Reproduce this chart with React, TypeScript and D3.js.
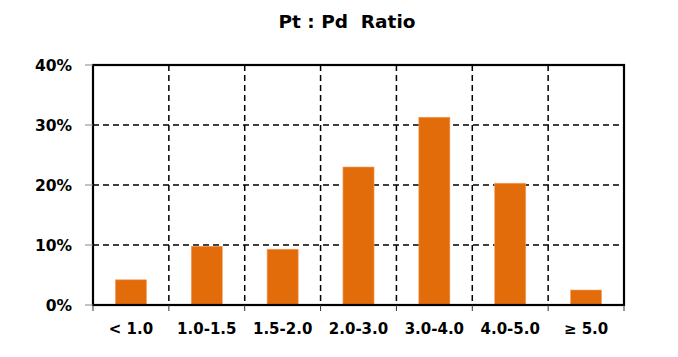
import React from "react";
import * as d3 from "d3";

const categories = ["< 1.0", "1.0-1.5", "1.5-2.0", "2.0-3.0", "3.0-4.0", "4.0-5.0", "≥ 5.0"];
const values = [4.2, 9.8, 9.3, 23.0, 31.3, 20.3, 2.5];
const yTicks = [0, 10, 20, 30, 40];
const title = "Pt : Pd  Ratio";

export default function App() {
  const W = 678, H = 357;
  const left = 93, right = 624, top = 65, bottom = 305;
  const x = d3.scaleBand<string>().domain(categories).range([left, right]).paddingInner(0).paddingOuter(0);
  const y = d3.scaleLinear().domain([0, 40]).range([bottom, top]);
  const bw = x.bandwidth() * 0.41;
  const font = "'DejaVu Sans', Verdana, sans-serif";
  return (
    <svg width={W} height={H} style={{ position: "absolute", left: 0, top: 0 }}>
      <rect width={W} height={H} fill="#fff" />
      <text x={347} y={28} textAnchor="middle" fontFamily={font} fontWeight="bold" fontSize={18.5} fill="#000" style={{ whiteSpace: "pre" }}>{title}</text>
      {yTicks.filter(t => t > 0 && t < 40).map(t => (
        <line key={"h" + t} x1={left} x2={right} y1={y(t)} y2={y(t)} stroke="#000" strokeWidth={1.5} strokeDasharray="6,4" />
      ))}
      {categories.slice(1).map(c => (
        <line key={"v" + c} x1={x(c)!} x2={x(c)!} y1={top} y2={bottom} stroke="#000" strokeWidth={1.5} strokeDasharray="6,4" />
      ))}
      {categories.map((c, i) => (
        <rect key={c} x={x(c)! + x.bandwidth() / 2 - bw / 2} y={y(values[i])} width={bw} height={bottom - y(values[i])} fill="#E36C0A" stroke="#F4A56A" strokeWidth={0.6} />
      ))}
      <rect x={left} y={top} width={right - left} height={bottom - top} fill="none" stroke="#000" strokeWidth={2.2} />
      {yTicks.map(t => (
        <g key={"yt" + t}>
          <line x1={left - 8} x2={left} y1={y(t)} y2={y(t)} stroke="#888" strokeWidth={1} />
          <text x={72} y={y(t) + 5.5} textAnchor="end" fontFamily={font} fontWeight="bold" fontSize={15.5} fill="#000">{t + "%"}</text>
        </g>
      ))}
      {[...categories.map(c => x(c)!), right].map((px, i) => (
        <line key={"xt" + i} x1={px} x2={px} y1={bottom} y2={bottom + 6} stroke="#333" strokeWidth={1} />
      ))}
      {categories.map(c => (
        <text key={"xl" + c} x={x(c)! + x.bandwidth() / 2} y={334} textAnchor="middle" fontFamily={font} fontWeight="bold" fontSize={15} fill="#000">{c}</text>
      ))}
    </svg>
  );
}
